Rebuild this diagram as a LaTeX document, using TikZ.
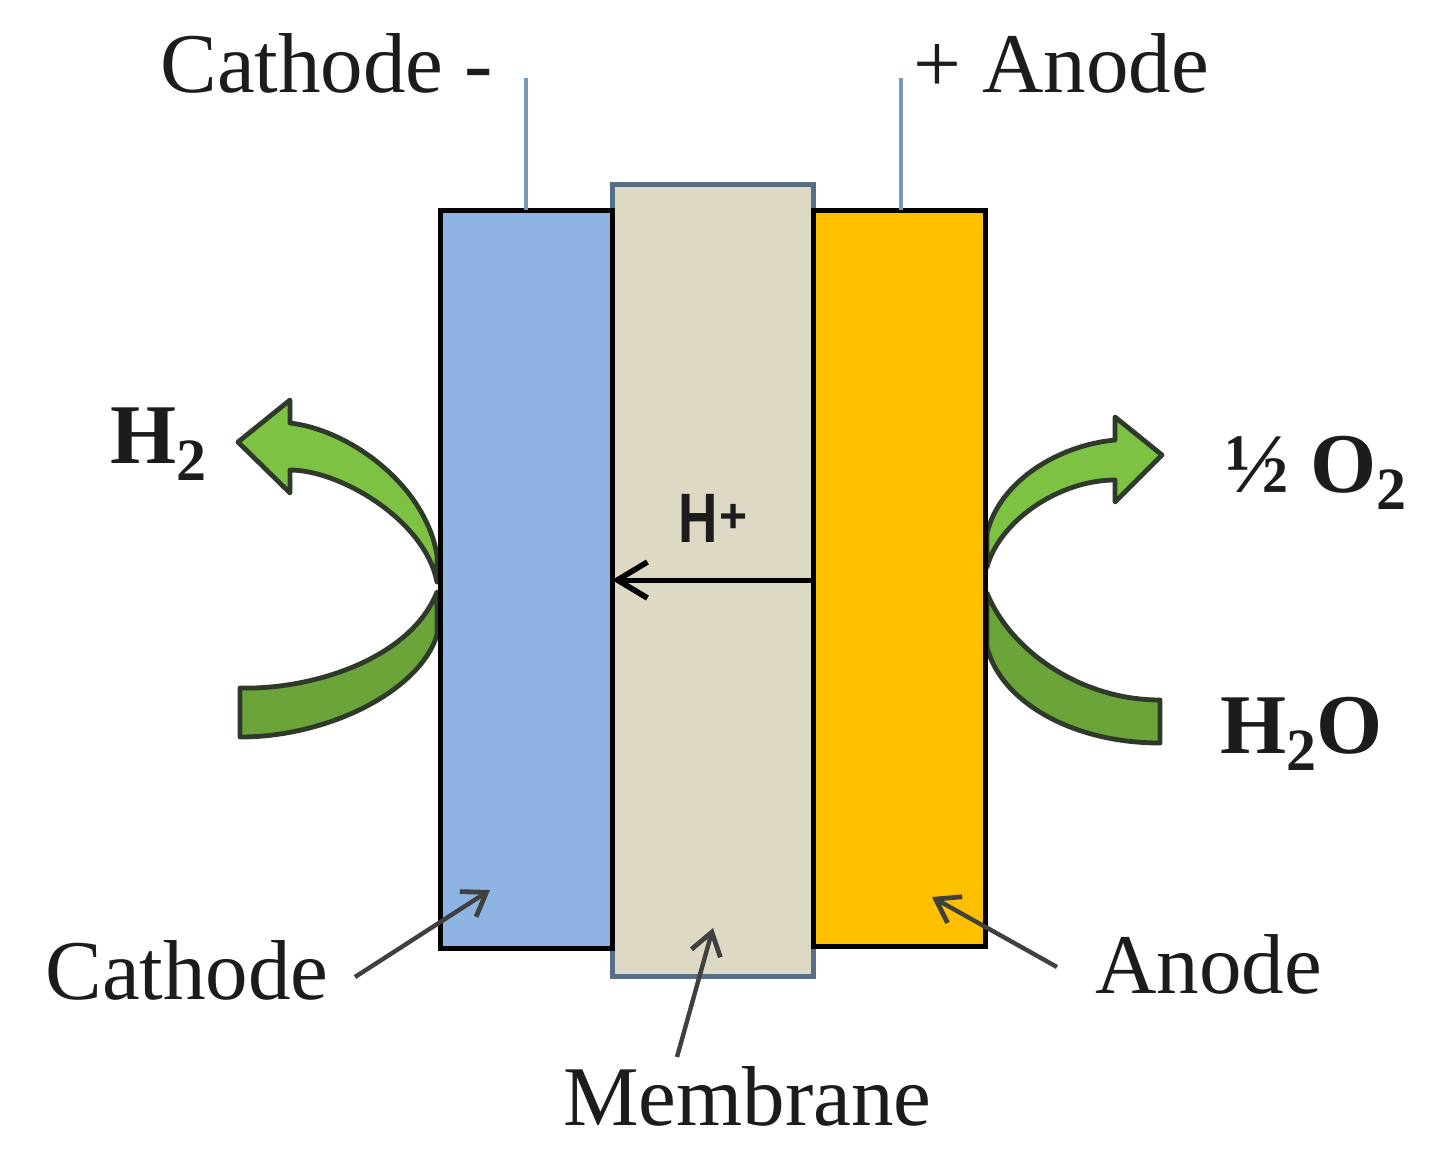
\documentclass[tikz,border=0pt]{standalone}
\usepackage{fontspec}
\setmainfont{Liberation Serif}
\newfontfamily\hfont{Liberation Sans}
\usetikzlibrary{arrows.meta}
\definecolor{cathblue}{HTML}{8EB4E3}
\definecolor{membeige}{HTML}{DDD9C4}
\definecolor{anodeyel}{HTML}{FFC000}
\definecolor{memborder}{HTML}{566F86}
\definecolor{wirecol}{HTML}{7A9AB8}
\definecolor{greenlight}{HTML}{7DC243}
\definecolor{greendark}{HTML}{6BA539}
\definecolor{greenline}{HTML}{2F3A2A}
\definecolor{ptrcol}{HTML}{404040}
\definecolor{txtcol}{HTML}{1C1C1C}
\newcommand\chemsub[1]{\raisebox{-0.2em}{\fontsize{30}{30}\selectfont #1}}
\tikzset{
  elec/.style={draw=black, line width=2.5pt, inner sep=0pt, outer sep=0pt},
  membox/.style={draw=memborder, line width=2.5pt, fill=membeige, inner sep=0pt, outer sep=0pt},
  wire/.style={draw=wirecol, line width=2pt},
  gas/.style={draw=greenline, line width=2.4pt, line join=round},
  ptr/.style={draw=ptrcol, line width=2.2pt, -{Straight Barb[length=11pt,width=15pt,line width=2.4pt]}},
  harrow/.style={draw=black, line width=2.5pt, -{Straight Barb[length=15pt,width=18pt,line width=2.8pt]}},
  lbl/.style={text=txtcol, font=\fontsize{42.5}{50}\selectfont, inner sep=0pt},
  blbl/.style={text=txtcol, font=\fontsize{42.5}{50}\selectfont\bfseries, inner sep=0pt}
}
\begin{document}
\begin{tikzpicture}[x=0.5pt,y=-0.5pt]
\fill[white] (0,0) rectangle (1436,1152);
\useasboundingbox (0,0) rectangle (1436,1152);

% gas arrows
\filldraw[gas, fill=greenlight] (437,555) .. controls (425,485) and (350,430) .. (290,423) -- (290,400) -- (238,442) -- (290,493) -- (290,470) .. controls (340,470) and (425,520) .. (437,582) -- cycle;
\filldraw[gas, fill=greendark] (240,688) .. controls (310,690) and (410,660) .. (437,592) -- (437,635) .. controls (420,690) and (330,737) .. (240,737) -- cycle;
\filldraw[gas, fill=greenlight] (987,533) .. controls (1000,480) and (1060,445) .. (1115,440) -- (1115,417) -- (1162,455) -- (1115,502) -- (1115,480) .. controls (1060,480) and (1000,520) .. (987,567) -- cycle;
\filldraw[gas, fill=greendark] (987,593) .. controls (1010,650) and (1080,700) .. (1160,700) -- (1160,743) .. controls (1070,743) and (1000,700) .. (987,647) -- cycle;

% cell
\node[membox, minimum width=100.5pt, minimum height=396pt] (mem) at (712.5,580) {};
\node[elec, fill=cathblue, minimum width=86pt, minimum height=369pt] (cat) at (526,579) {};
\node[elec, fill=anodeyel, minimum width=86pt, minimum height=368pt] (an) at (899,578) {};

% wires
\coordinate (wc) at (526,78);
\coordinate (wa) at (901,78);
\draw[wire] (cat.north -| wc) -- (wc);
\draw[wire] (an.north -| wa) -- (wa);

% top labels
\node[lbl, anchor=base west] (tcat) at (160,92) {Cathode -};
\node[lbl, anchor=base west] (tan) at (913,92) {+ Anode};

% H+ flux
\coordinate (hy) at (0,580);
\draw[harrow] (an.west |- hy) -- (cat.east |- hy);
\node[anchor=base west, inner sep=0pt, text=txtcol] (hp) at (678,542) {\hfont\bfseries\scalebox{0.78}[1]{\fontsize{35}{35}\selectfont H}\kern1pt\raisebox{0.5em}{\fontsize{24}{24}\selectfont +}};

% gas labels
\node[blbl, anchor=base west] (h2) at (110,463) {H\chemsub{2}};
\node[blbl, anchor=base west] (o2) at (1225,492) {½ O\chemsub{2}};
\node[blbl, anchor=base west] (h2o) at (1220,753) {H\chemsub{2}O};

% bottom labels
\node[lbl, anchor=base west] (lcat) at (45,999) {Cathode};
\node[lbl, anchor=base west] (lmem) at (563,1125) {Membrane};
\node[lbl, anchor=base west] (lan) at (1095,993) {Anode};

\coordinate (pc0) at (355,977);
\coordinate (pc1) at (490,890);
\coordinate (pm0) at (677,1057);
\coordinate (pm1) at (713,928);
\coordinate (pa0) at (1057,967);
\coordinate (pa1) at (932,897);
\draw[ptr] (pc0) -- (pc1);
\draw[ptr] (pm0) -- (pm1);
\draw[ptr] (pa0) -- (pa1);
\end{tikzpicture}
\end{document}
